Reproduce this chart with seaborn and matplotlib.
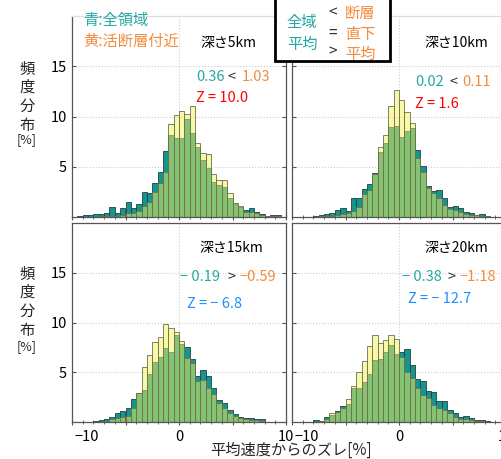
import numpy as np
import pandas as pd
import seaborn as sns
import matplotlib.pyplot as plt
from matplotlib.patches import Rectangle
import matplotlib.transforms as mtransforms

sns.set_style('white')
plt.rcParams['font.family'] = ['Noto Sans CJK JP', 'DejaVu Sans']

# bins of 0.5 % from -10 to 10
edges = np.arange(-10, 10.01, 0.5)
centers = edges[:-1] + 0.25

# frequency [%] per bin
teal_5 = [0, 0.05, 0.15, 0.2, 0.25, 0.3, 0.37, 0.97, 0.43, 0.87,
          1.5, 0.9, 1.3, 2.5, 2.4, 3.4, 4.5, 6.6, 8.2, 7.9,
          7.9, 9.8, 8.4, 7.0, 5.7, 4.9, 3.5, 3.2, 3.0, 1.9,
          1.3, 1.0, 0.7, 0.85, 0.5, 0.3, 0.1, 0.2, 0.2, 0]
yel_5 = [0, 0, 0, 0, 0.02, 0.05, 0.08, 0.12, 0.12, 0.2,
         0.37, 0.37, 0.6, 1.1, 1.5, 2.5, 3.4, 4.5, 9.3, 10.1,
         10.5, 10.2, 11.0, 7.4, 6.4, 6.3, 4.3, 3.7, 3.7, 2.4,
         1.4, 1.1, 0.5, 0.5, 0.35, 0.2, 0.1, 0.1, 0.05, 0]
teal_10 = [0, 0, 0, 0.03, 0.1, 0.2, 0.25, 0.4, 0.7, 0.85,
           0.6, 1.9, 1.9, 2.8, 3.3, 4.4, 6.5, 7.4, 9.0, 9.1,
           8.0, 8.6, 8.9, 6.7, 5.1, 3.1, 2.6, 2.7, 1.9, 1.0,
           1.1, 0.87, 0.5, 0.35, 0.2, 0.3, 0.1, 0, 0, 0]
yel_10 = [0, 0, 0, 0, 0, 0.05, 0.1, 0.1, 0.15, 0.3,
          0.4, 0.6, 1.0, 2.3, 2.7, 4.3, 7.0, 8.2, 11.0, 12.6,
          11.6, 10.4, 9.4, 5.9, 4.5, 2.9, 2.4, 1.9, 1.2, 0.77,
          0.7, 0.5, 0.3, 0.2, 0.15, 0.1, 0.05, 0, 0, 0]
teal_15 = [0, 0, 0, 0.05, 0.1, 0.2, 0.3, 0.5, 0.9, 1.1,
           1.4, 2.3, 2.9, 3.2, 4.8, 6.0, 6.5, 7.4, 7.0, 8.7,
           7.8, 7.5, 6.3, 4.6, 5.25, 4.6, 3.4, 2.2, 1.9, 1.2,
           0.8, 0.55, 0.45, 0.4, 0.35, 0.3, 0.05, 0, 0, 0]
yel_15 = [0, 0, 0, 0, 0, 0.05, 0.1, 0.3, 0.4, 0.55,
          0.6, 1.4, 2.9, 5.5, 6.7, 8.0, 8.55, 9.85, 9.4, 9.0,
          8.1, 6.4, 5.9, 4.1, 4.2, 3.4, 2.8, 1.9, 1.4, 0.95,
          0.6, 0.4, 0.3, 0.25, 0.2, 0.1, 0, 0, 0, 0]
teal_20 = [0.03, 0.03, 0, 0.03, 0.2, 0.15, 0.5, 0.7, 1.1, 1.6,
           1.8, 3.4, 3.4, 4.0, 4.8, 6.2, 6.3, 7.0, 7.7, 6.8,
           7.0, 7.3, 5.7, 4.3, 4.1, 3.1, 3.0, 2.1, 2.1, 1.2,
           0.93, 0.53, 0.6, 0.4, 0.2, 0.2, 0.15, 0.05, 0, 0]
yel_20 = [0, 0, 0, 0, 0.05, 0.1, 0.3, 0.9, 1.0, 1.4,
          2.3, 3.6, 5.0, 6.1, 7.6, 8.7, 7.9, 8.2, 8.7, 8.3,
          6.5, 5.0, 4.4, 3.4, 2.7, 2.4, 1.7, 1.4, 1.2, 0.87,
          0.53, 0.3, 0.35, 0.2, 0.1, 0.1, 0.05, 0, 0, 0]

depths = ['深さ5km', '深さ10km', '深さ15km', '深さ20km']
all_means = ['0.36', '0.02', '− 0.19', '− 0.38']
fault_means = ['1.03', '0.11', '−0.59', '−1.18']
signs = ['<', '<', '>', '>']
z_texts = ['Z = 10.0', 'Z = 1.6', 'Z = − 6.8', 'Z = − 12.7']

TEAL = '#14958f'
YELLOW = '#f2f255'
TXT_TEAL = '#26a8a4'
ORANGE = '#f28c3c'

W, H = 501, 459
fig = plt.figure(figsize=(W / 100, H / 100), dpi=100)


def P(x, y):
    return x / W, 1 - y / H


rects = [(72, 16, 214, 201), (292, 16, 214, 201),
         (72, 223, 214, 199), (292, 223, 214, 199)]
panels = [(teal_5, yel_5), (teal_10, yel_10), (teal_15, yel_15), (teal_20, yel_20)]

for i, ((x0, y0, w, h), (tv, yv)) in enumerate(zip(rects, panels)):
    ax = fig.add_axes([x0 / W, 1 - (y0 + h) / H, w / W, h / H])
    df = pd.DataFrame({'x': centers, 'teal': tv, 'yel': yv})
    sns.histplot(data=df, x='x', weights='teal', binwidth=0.5, binrange=(-10, 10),
                 color=TEAL, alpha=1, edgecolor='#24403c', linewidth=0.6, ax=ax)
    sns.histplot(data=df, x='x', weights='yel', binwidth=0.5, binrange=(-10, 10),
                 color=YELLOW, alpha=0.5, edgecolor='#6f6f50', linewidth=0.6, ax=ax)
    ax.set_xlim(-10, 10)
    ax.set_ylim(0, 20)
    ax.set_xlabel('')
    ax.set_ylabel('')
    ax.set_yticks([5, 10, 15])
    ax.set_xticks([-10, -5, 0, 5, 10])
    ax.set_xticks(np.arange(-10, 11, 1), minor=True)
    ax.yaxis.grid(True, color='#cccccc', linestyle=':', linewidth=0.8)
    ax.axvline(0, color='#cccccc', linestyle=':', linewidth=0.8, zorder=0)
    ax.set_axisbelow(True)
    for s in ax.spines.values():
        s.set_visible(True)
        s.set_color('#555555')
        s.set_linewidth(0.9)
    if i < 2:
        ax.spines['top'].set_color('#dddddd')
    ax.tick_params(axis='y', direction='in', length=3, right=True, left=True,
                   labelsize=10.5, colors='#555555', labelcolor='black')
    ax.tick_params(axis='x', which='major', direction='inout', length=5, bottom=True,
                   labelsize=10.5, colors='#555555', labelcolor='black')
    ax.tick_params(axis='x', which='minor', direction='inout', length=3, bottom=True,
                   colors='#555555')
    if i % 2 == 1:
        ax.set_yticklabels([])
    if i < 2:
        ax.set_xticklabels([])
    else:
        ax.set_xticklabels(['−10', '', '0', '', '10'])
        lab = ax.get_xticklabels()[0]
        lab.set_transform(lab.get_transform() + mtransforms.ScaledTranslation(
            0.15, 0, fig.dpi_scale_trans))

# panel annotations (pixel positions from the reference)
depth_pos = [(228, 43), (456, 43), (231, 248), (456, 248)]
stat_pos = [(196, 232, 242, 77), (415, 453, 462, 82),
            (180, 231, 240, 277), (402, 451, 460, 277)]
z_pos = [(196, 98, 'red'), (415, 104, 'red'),
         (187, 304, '#1e8fff'), (408, 299, '#1e8fff')]
for i in range(4):
    fig.text(*P(*depth_pos[i]), depths[i], ha='center', va='center',
             fontsize=10, color='black')
    xa, xs, xf, ys = stat_pos[i]
    fig.text(*P(xa, ys), all_means[i], ha='left', va='center',
             fontsize=10.5, color=TXT_TEAL)
    fig.text(*P(xs, ys), signs[i], ha='center', va='center',
             fontsize=10.5, color='#333333')
    fig.text(*P(xf, ys), fault_means[i], ha='left', va='center',
             fontsize=10.5, color=ORANGE)
    zx, zy, zc = z_pos[i]
    fig.text(*P(zx, zy), z_texts[i], ha='left', va='center',
             fontsize=10.5, color=zc)

# legend texts
fig.text(*P(83, 20), '青:全領域', ha='left', va='center', fontsize=11, color=TXT_TEAL)
fig.text(*P(83, 41), '黄:活断層付近', ha='left', va='center', fontsize=11, color=ORANGE)

# boxed explanation
fig.add_artist(Rectangle(P(275, 61), 115 / W, 70 / H, transform=fig.transFigure,
                         facecolor='white', edgecolor='black', linewidth=2, zorder=5))
fig.text(*P(302, 23), '全域', ha='center', va='center', fontsize=11,
         color=TXT_TEAL, zorder=6)
fig.text(*P(302, 44), '平均', ha='center', va='center', fontsize=11,
         color=TXT_TEAL, zorder=6)
for s, yy in zip(['<', '=', '>'], [13, 33, 52]):
    fig.text(*P(333, yy), s, ha='center', va='center', fontsize=11,
             color='#333333', zorder=6)
for s, yy in zip(['断層', '直下', '平均'], [13, 34, 54]):
    fig.text(*P(360, yy), s, ha='center', va='center', fontsize=11,
             color=ORANGE, zorder=6)

# axis labels
for yc, yp in [(97, 140), (302, 347)]:
    fig.text(*P(27, yc), '頻\n度\n分\n布', ha='center', va='center',
             fontsize=11, linespacing=1.15)
    fig.text(*P(27, yp), '[%]', ha='center', va='center', fontsize=9)
fig.text(*P(291, 450), '平均速度からのズレ[%]', ha='center', va='center', fontsize=11)

fig.savefig('out.png', dpi=100)
